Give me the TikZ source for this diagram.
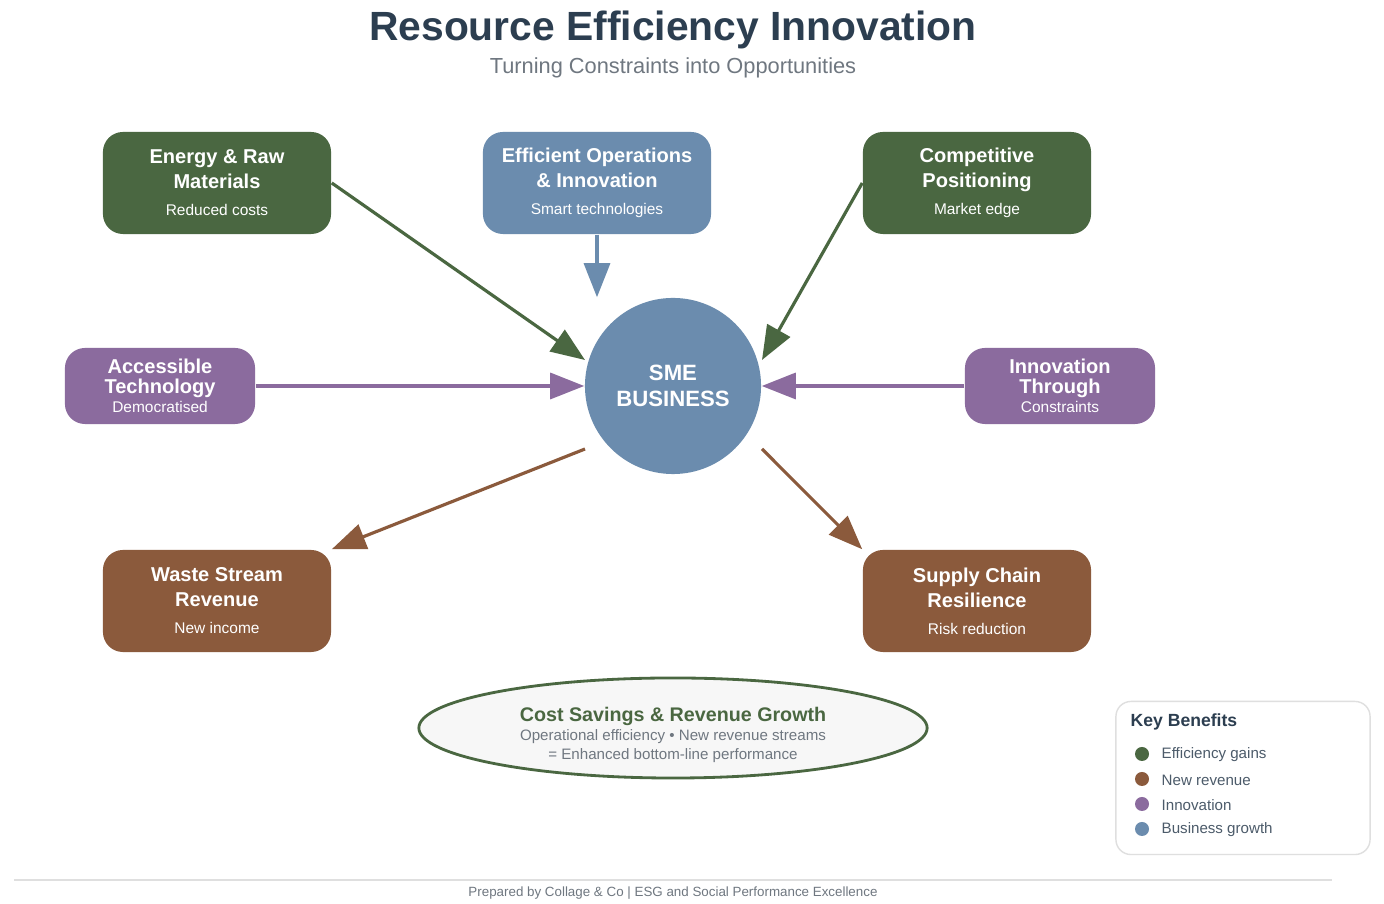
\documentclass[tikz,border=0pt]{standalone}
\usepackage{fontspec}
\setmainfont{Liberation Sans}
\usetikzlibrary{arrows.meta,shapes.geometric}
\definecolor{cgreen}{HTML}{4A6741}
\definecolor{cblue}{HTML}{6B8CAE}
\definecolor{cpurple}{HTML}{8B6B9E}
\definecolor{cbrown}{HTML}{8B5A3C}
\definecolor{ctitle}{HTML}{2C3E50}
\definecolor{cgray}{HTML}{6F7780}
\newcommand{\myfs}[1]{\fontsize{#1}{#1}\selectfont}
\newcommand{\st}[1]{{\fontsize{4.4pt}{5pt}\selectfont #1}}
\tikzset{
 box/.style={rounded corners=2mm,minimum width=2.28cm,minimum height=1.02cm,align=center,text=white,inner sep=0pt,font=\bfseries\fontsize{5.7pt}{7.1pt}\selectfont},
 pbox/.style={rounded corners=2mm,minimum width=1.9cm,minimum height=0.76cm,align=center,text=white,inner sep=0pt,fill=cpurple,font=\bfseries\fontsize{5.7pt}{5.5pt}\selectfont},
 arr/.style={line width=0.9pt,-{Triangle[length=0.34cm,width=0.26cm]}},
 ldot/.style={circle,minimum size=0.14cm,inner sep=0pt},
 ltxt/.style={anchor=west,inner sep=0pt,text=ctitle!85,font=\myfs{4.3pt}}
}
\begin{document}
\begin{tikzpicture}[x=0.01cm,y=-0.01cm]
\useasboundingbox[fill=white] (0,0) rectangle (1384,904);
\node[text=ctitle,font=\bfseries\myfs{11.6pt}] (title) at (673,30) {Resource Efficiency Innovation};
\node[text=cgray,font=\myfs{6.2pt}] (sub) at (673,68) {Turning Constraints into Opportunities};

\node[box,fill=cgreen] (energy) at (217,183) {Energy \& Raw\\Materials\\[0.6pt]\st{\mdseries Reduced costs}};
\node[box,fill=cblue] (ops) at (597,183) {Efficient Operations\\\& Innovation\\[0.6pt]\st{\mdseries Smart technologies}};
\node[box,fill=cgreen] (comp) at (977,183) {Competitive\\Positioning\\[0.6pt]\st{\mdseries Market edge}};
\node[pbox] (acc) at (160,386) {Accessible\\Technology\\\st{\mdseries Democratised}};
\node[pbox] (inn) at (1060,386) {Innovation\\Through\\\st{\mdseries Constraints}};
\node[box,fill=cbrown] (waste) at (217,601) {Waste Stream\\Revenue\\[0.6pt]\st{\mdseries New income}};
\node[box,fill=cbrown] (supply) at (977,601) {Supply Chain\\Resilience\\[0.6pt]\st{\mdseries Risk reduction}};

\node[circle,fill=cblue,minimum size=1.76cm,inner sep=0pt,text=white,align=center,font=\bfseries\fontsize{6.3pt}{7.3pt}\selectfont] (sme) at (673,386) {SME\\BUSINESS};

\coordinate (pE) at (585,360);
\coordinate (pC) at (762,360);
\coordinate (pW) at (585,449);
\coordinate (pS) at (762,449);
\draw[arr,cgreen] (energy.east) -- (pE);
\draw[arr,cblue] (ops.south) -- (ops.south |- sme.north);
\draw[arr,cgreen] (comp.west) -- (pC);
\draw[arr,cpurple] (acc.east) -- (sme.west);
\draw[arr,cpurple] (inn.west) -- (sme.east);
\draw[arr,cbrown] (pW) -- (waste.north east);
\draw[arr,cbrown] (pS) -- (supply.north west);

\node[ellipse,draw=cgreen,line width=0.8pt,fill=gray!6,minimum width=5.08cm,minimum height=1.0cm,inner sep=0pt] (sum) at (673,728) {};
\node[align=center,font=\fontsize{4.3pt}{5.5pt}\selectfont,text=cgray,inner sep=0pt] (sumtxt) at (673,735)
 {{\color{cgreen}\bfseries\fontsize{5.6pt}{6.6pt}\selectfont Cost Savings \& Revenue Growth}\\Operational efficiency • New revenue streams\\= Enhanced bottom-line performance};

\node[draw=gray!25,rounded corners=1.5mm,minimum width=2.54cm,minimum height=1.53cm,inner sep=0pt] (leg) at (1243,778) {};
\node[anchor=west,inner sep=0pt,text=ctitle,font=\bfseries\myfs{5pt}] (lt) at (1130,722) {Key Benefits};
\node[ldot,fill=cgreen] (d1) at (1142,754) {};
\node[ltxt] (t1) at (1161,755) {Efficiency gains};
\node[ldot,fill=cbrown] (d2) at (1142,779) {};
\node[ltxt] (t2) at (1161,780) {New revenue};
\node[ldot,fill=cpurple] (d3) at (1142,804) {};
\node[ltxt] (t3) at (1161,805) {Innovation};
\node[ldot,fill=cblue] (d4) at (1142,829) {};
\node[ltxt] (t4) at (1161,830) {Business growth};

\coordinate (fl) at (14,880); \coordinate (fr) at (1332,880);
\draw[gray!25,line width=0.5pt] (fl) -- (fr);
\node[text=cgray,font=\myfs{3.8pt}] (foot) at (673,893) {Prepared by Collage \& Co | ESG and Social Performance Excellence};
\end{tikzpicture}
\end{document}
